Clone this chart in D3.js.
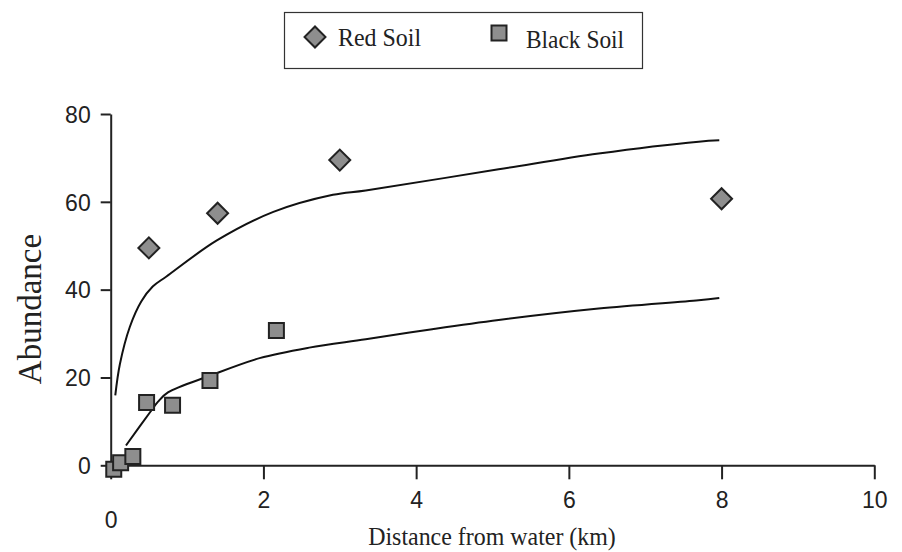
<!DOCTYPE html>
<html>
<head>
<meta charset="utf-8">
<script src="https://cdn.jsdelivr.net/npm/d3@7"></script>
<style>
  html, body { margin: 0; padding: 0; background: #fff; }
  svg { display: block; }
</style>
</head>
<body>
<svg id="chart" width="902" height="552"></svg>
<script>
// Observed abundance by distance from water
const redX = [0.5, 1.4, 3.0, 8.0];
const redY = [49.5, 57.4, 69.5, 60.7];
const blackX = [0.04, 0.13, 0.29, 0.47, 0.81, 1.30, 2.17];
const blackY = [-0.9, 0.6, 2.0, 14.3, 13.7, 19.3, 30.7];

// Fitted trend curves
const redFitX = [0.06, 0.12, 0.25, 0.40, 0.55, 0.73, 1.39, 2.13, 2.91, 3.34, 5.08, 6.39, 7.70, 7.97];
const redFitY = [15.9, 23.0, 31.5, 37.3, 40.7, 43.0, 51.2, 57.7, 61.6, 62.6, 67.4, 71.0, 73.7, 74.0];
const blackFitX = [0.20, 0.52, 0.62, 0.75, 1.30, 1.95, 2.60, 3.34, 4.21, 5.08, 6.39, 7.70, 7.97];
const blackFitY = [4.5, 12.2, 14.5, 16.6, 20.4, 24.4, 26.8, 28.7, 31.0, 33.1, 35.7, 37.6, 38.1];

// Axis ticks and labels
const xTicks = [0, 2, 4, 6, 8, 10];
const yTicks = [0, 20, 40, 60, 80];
const legendLabels = ["Red Soil", "Black Soil"];
const xTitle = "Distance from water (km)";
const yTitle = "Abundance";

const svg = d3.select("#chart");
const ink = "#222";
const markFill = "#8e8e8e";
const serif = "'Liberation Serif', 'Times New Roman', serif";

const x = d3.scaleLinear().domain([0, 10]).range([110.7, 874.3]);
const y = d3.scaleLinear().domain([0, 80]).range([465.3, 114]);

// Axes
const xAxis = svg.append("g")
  .attr("transform", `translate(0,${y(0)})`)
  .call(d3.axisBottom(x).tickValues(xTicks).tickSize(14).tickSizeOuter(0).tickFormat(d3.format("d")));
const yAxis = svg.append("g")
  .attr("transform", `translate(${x(0)},0)`)
  .call(d3.axisLeft(y).tickValues(yTicks).tickSize(10).tickSizeOuter(0).tickFormat(d3.format("d")));

[xAxis, yAxis].forEach(g => {
  g.select(".domain").attr("stroke", ink).attr("stroke-width", 2);
  g.selectAll(".tick line").attr("stroke", ink).attr("stroke-width", 2);
  g.selectAll(".tick text")
    .attr("fill", "#222")
    .style("font-family", "'Liberation Sans', Arial, sans-serif")
    .style("font-size", "23px");
});
xAxis.selectAll(".tick text").attr("dy", null)
  .attr("dominant-baseline", "central")
  .attr("y", d => d === 0 ? 55 : 35);
yAxis.selectAll(".tick text").attr("x", -20).attr("dy", "0.36em");

// Axis titles (slightly condensed serif)
svg.append("text")
  .attr("transform", "translate(492,545) scale(0.92,1)")
  .attr("text-anchor", "middle")
  .style("font-family", serif)
  .style("font-size", "26px")
  .attr("fill", "#222")
  .text(xTitle);
svg.append("text")
  .attr("transform", "translate(41,309) rotate(-90)")
  .attr("text-anchor", "middle")
  .style("font-family", serif)
  .style("font-size", "33px")
  .attr("fill", "#222")
  .text(yTitle);

// Trend curves
const line = d3.line().x(d => x(d[0])).y(d => y(d[1])).curve(d3.curveCatmullRom.alpha(0.5));
const redFit = redFitX.map((v, i) => [v, redFitY[i]]);
const blackFit = blackFitX.map((v, i) => [v, blackFitY[i]]);
[redFit, blackFit].forEach(pts => {
  svg.append("path").attr("d", line(pts))
    .attr("fill", "none").attr("stroke", "#111").attr("stroke-width", 2);
});

// Markers
const diamond = d3.symbol(d3.symbolSquare, 220);
const square = d3.symbol(d3.symbolSquare, 225);

svg.append("g").selectAll("path")
  .data(blackX.map((v, i) => [v, blackY[i]]))
  .join("path")
  .attr("d", square)
  .attr("transform", d => `translate(${x(d[0])},${y(d[1])})`)
  .attr("fill", markFill).attr("stroke", ink).attr("stroke-width", 2);

svg.append("g").selectAll("path")
  .data(redX.map((v, i) => [v, redY[i]]))
  .join("path")
  .attr("d", diamond)
  .attr("transform", d => `translate(${x(d[0])},${y(d[1])}) rotate(45)`)
  .attr("fill", markFill).attr("stroke", ink).attr("stroke-width", 2);

// Legend
const legend = svg.append("g");
legend.append("rect")
  .attr("x", 284.5).attr("y", 12.5).attr("width", 358).attr("height", 56)
  .attr("fill", "#fff").attr("stroke", "#333").attr("stroke-width", 1.2);
legend.append("path").attr("d", diamond)
  .attr("transform", "translate(315,37) rotate(45)")
  .attr("fill", markFill).attr("stroke", ink).attr("stroke-width", 2);
legend.append("path").attr("d", square)
  .attr("transform", "translate(499,33)")
  .attr("fill", markFill).attr("stroke", ink).attr("stroke-width", 2);
legend.selectAll("text.lab")
  .data(legendLabels)
  .join("text")
  .attr("class", "lab")
  .attr("transform", (d, i) => i === 0 ? "translate(338,46) scale(0.92,1)" : "translate(526,48) scale(0.9,1)")
  .style("font-family", serif)
  .style("font-size", "26px")
  .attr("fill", "#222")
  .text(d => d);
</script>
</body>
</html>
